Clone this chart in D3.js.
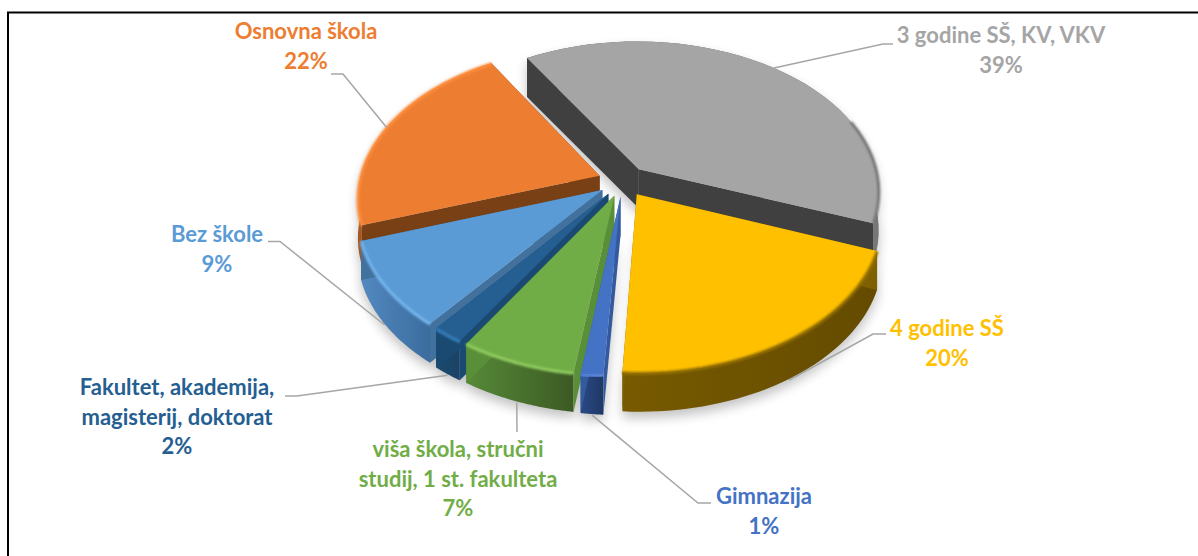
<!DOCTYPE html>
<html>
<head>
<meta charset="utf-8">
<script src="https://cdnjs.cloudflare.com/ajax/libs/d3/7.8.5/d3.min.js"></script>
<style>
  html, body { margin: 0; padding: 0; background: #fff; }
  svg { display: block; }
  .label { font-family: Lato, "Open Sans", sans-serif; font-weight: 700; font-size: 22px; text-anchor: middle; }
  .leader { fill: none; stroke: #a6a6a6; stroke-width: 1.5; }
</style>
</head>
<body>
<svg id="chart" width="1198" height="556"></svg>
<script>
// clockwise, beginning with the big grey slice
var categories = ['3 godine SŠ, KV, VKV', '4 godine SŠ', 'Gimnazija',
  'viša škola, stručni studij, 1 st. fakulteta', 'Fakultet, akademija, magisterij, doktorat',
  'Bez škole', 'Osnovna škola'];
// labels only show whole percents, the decimals are estimated from the slice sizes
var values = [39.44, 20.19, 1.28, 6.67, 1.81, 9.11, 21.5];

// how each category name wraps on the picture
var labelLines = [
  ['3 godine SŠ, KV, VKV'], ['4 godine SŠ'], ['Gimnazija'],
  ['viša škola, stručni', 'studij, 1 st. fakulteta'],
  ['Fakultet, akademija,', 'magisterij, doktorat'],
  ['Bez škole'], ['Osnovna škola']];

var topColors = ['#a5a5a5', '#ffc000', '#4472c4', '#70ad47', '#255e91', '#5b9bd5', '#ed7d31'];
var sideColors = ['#404040', '#7f6000', '#335a9c', '#5a8f3a', '#1a4a72', '#41719c', '#7a4015'];
var rimLeft = ['#555555', '#775a00', '#2a4a86', '#568a38', '#1b4a70', '#5289c0', '#a8561f'];
var rimRight = ['#777777', '#644b00', '#1f3864', '#3c5a24', '#1a4265', '#3b6c9e', '#a8561f'];
var bevelColors = ['#777777', '#9a7400', '#5a8ae0', '#92cf5e', '#3580bd', '#74b6ef', '#ff8f3e'];

// label placement: centre x, first baseline, then the leader's elbow and end
var labelX = [1001, 947, 764, 458, 177, 217, 306];
var labelY = [43, 336, 504, 457, 395, 242, 39];
var lineGap = 29.5;
var leaderEnds = [
  [[883, 44], [893, 44]], [[873, 334], [886, 334]], [[698, 503], [711, 503]],
  [[517, 432]], [[297, 396], [285, 396]], [[280, 241.5], [268, 241.5]], [[343, 74], [331, 74]]];

var svg = d3.select('#chart');
var cx = 623, cy = 181, radius = 240, explode = 25, depth = 39;
var tilt = 0.621, eye = 1688;
var firstAngle = -31.3;

var defs = svg.append('defs');
defs.append('filter').attr('id', 'shadowBlur').attr('x', '-20%').attr('y', '-20%').attr('width', '140%').attr('height', '140%')
  .append('feGaussianBlur').attr('stdDeviation', 6);
defs.append('filter').attr('id', 'bevelBlur').attr('x', '-20%').attr('y', '-20%').attr('width', '140%').attr('height', '140%')
  .append('feGaussianBlur').attr('stdDeviation', 1);

// frame, open on the right and at the bottom
svg.append('path').attr('d', 'M8,556 L8,12.5 L1198,12.5')
  .attr('fill', 'none').attr('stroke', '#000').attr('stroke-width', 2);

var rad = Math.PI / 180;
var pie = d3.pie().sort(null).startAngle(firstAngle * rad).endAngle((firstAngle + 360) * rad);
var arcs = pie(values);
var line = d3.line();

function project(X, Y, down) {
  var s = eye / (eye + Y);
  return [cx + X * s, cy - Y * tilt * s + (down || 0)];
}

// point of a slice on the pie's plane, with the explode shift along its mid angle
function slicePoint(a, r, angle, down) {
  var mid = (a.startAngle + a.endAngle) / 2;
  return project(explode * Math.sin(mid) + r * Math.sin(angle),
    explode * Math.cos(mid) + r * Math.cos(angle), down);
}

function arcPoints(a, from, to, down) {
  return d3.range(0, 41).map(function (i) {
    return slicePoint(a, radius, from + (to - from) * i / 40, down);
  });
}

function topOutline(a) {
  return [slicePoint(a, 0, 0, 0)].concat(arcPoints(a, a.startAngle, a.endAngle, 0));
}

function wall(a, angle) {
  return [slicePoint(a, 0, 0, 0), slicePoint(a, radius, angle, 0),
    slicePoint(a, radius, angle, depth), slicePoint(a, 0, 0, depth)];
}

function outerWall(a) {
  return arcPoints(a, a.startAngle, a.endAngle, 0)
    .concat(arcPoints(a, a.startAngle, a.endAngle, depth).reverse());
}

// soft shadow under everything
var shadow = svg.append('g').attr('filter', 'url(#shadowBlur)').attr('opacity', 0.24)
  .attr('transform', 'translate(0,6)');
arcs.forEach(function (a) {
  shadow.append('path').attr('d', line(outerWall(a)) + 'Z').attr('fill', '#000');
  shadow.append('path').attr('d', line(topOutline(a).map(function (p) { return [p[0], p[1] + depth]; })) + 'Z').attr('fill', '#000');
});

// painter's order: back to front
var order = [0, 6, 5, 4, 3, 2, 1];
order.forEach(function (i) {
  var a = arcs[i];
  var g = svg.append('g').attr('class', 'slice');
  var pts = arcPoints(a, a.startAngle, a.endAngle, depth);
  var gradient = defs.append('linearGradient').attr('id', 'rim' + i)
    .attr('gradientUnits', 'userSpaceOnUse')
    .attr('x1', d3.min(pts, function (p) { return p[0]; })).attr('x2', d3.max(pts, function (p) { return p[0]; }))
    .attr('y1', 0).attr('y2', 0);
  gradient.append('stop').attr('offset', '0%').attr('stop-color', rimLeft[i]);
  gradient.append('stop').attr('offset', '100%').attr('stop-color', rimRight[i]);

  // rim first, the flat walls must stay on top of it
  g.append('path').attr('d', line(outerWall(a)) + 'Z').attr('fill', 'url(#rim' + i + ')');
  g.append('path').attr('d', line(wall(a, a.startAngle)) + 'Z').attr('fill', sideColors[i]);
  g.append('path').attr('d', line(wall(a, a.endAngle)) + 'Z').attr('fill', sideColors[i]);
  g.append('path').attr('d', line(topOutline(a)) + 'Z').attr('fill', topColors[i]);

  // the bright or dark edge where the top turns into the rim; the grey one only shows on the right
  var bevelFrom = i === 0 ? 70 * rad : a.startAngle;
  g.append('path').attr('d', line(arcPoints(a, bevelFrom, a.endAngle, 0.5)))
    .attr('fill', 'none').attr('stroke', bevelColors[i]).attr('stroke-width', 3)
    .attr('filter', 'url(#bevelBlur)');
});

// leader lines start on the rim at each slice's mid angle
arcs.forEach(function (a, i) {
  var mid = (a.startAngle + a.endAngle) / 2;
  var start = i >= 1 && i <= 5 ? slicePoint(a, radius, mid, depth + 1) : slicePoint(a, radius, mid, 0);
  svg.append('path').attr('class', 'leader').attr('d', line([start].concat(leaderEnds[i])));
});

labelLines.forEach(function (lines, i) {
  var text = svg.append('text').attr('class', 'label').attr('fill', topColors[i]);
  lines.concat([Math.round(values[i]) + '%']).forEach(function (t, j) {
    text.append('tspan').attr('x', labelX[i]).attr('y', labelY[i] + j * lineGap).text(t);
  });
});
</script>
</body>
</html>
